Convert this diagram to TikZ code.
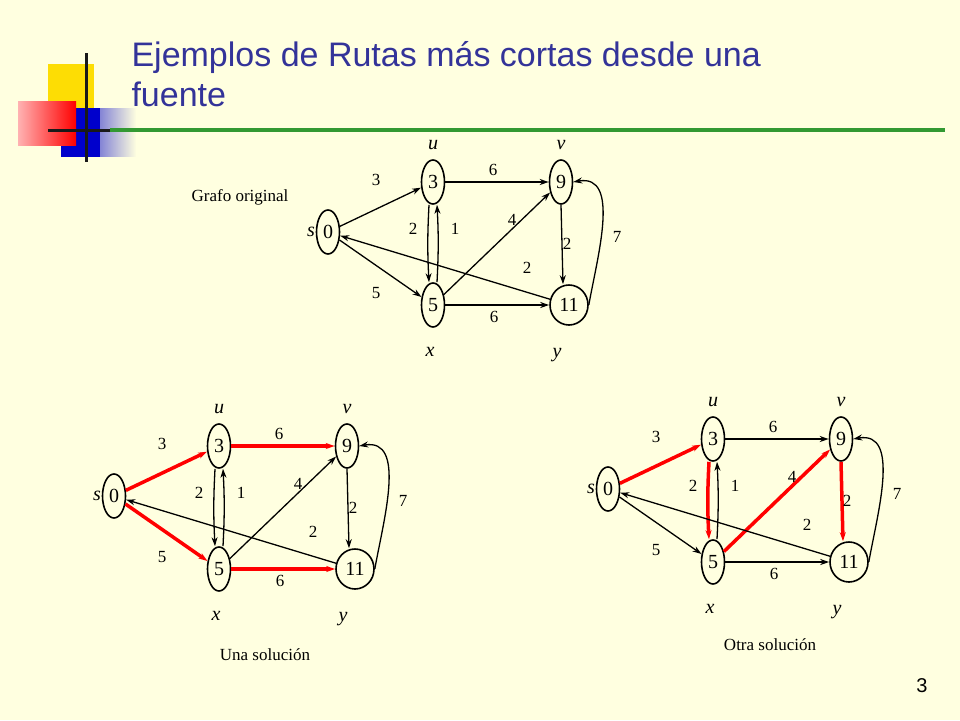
\documentclass[tikz,border=0pt]{standalone}
\usepackage{fontspec}
\setmainfont{Liberation Serif}
\newfontfamily\titlefont{Liberation Sans}
\usetikzlibrary{shapes.geometric,arrows.meta,fadings,shadings}
\definecolor{bg}{HTML}{FFFFE0}
\definecolor{ttl}{HTML}{333399}
\definecolor{grn}{HTML}{339933}
\tikzset{
 vx/.style={draw,ellipse,line width=1.6pt,inner sep=0pt,minimum width=23pt,minimum height=44pt,font=\fontsize{20}{20}\selectfont},
 vy/.style={vx,minimum width=38pt,minimum height=40pt},
 ed/.style={-{Stealth[length=9pt,width=6pt]},line width=1.3pt},
 hl/.style={red,line width=3.5pt},
 wt/.style={font=\fontsize{17}{17}\selectfont},
 lb/.style={font=\fontsize{20}{20}\selectfont\itshape},
 su/.style={},sx/.style={},uv/.style={},ux/.style={},xv/.style={},vy2/.style={},xy/.style={}
}
\newcommand\grafo[1]{%
 \node[vx] (#1s) at (328,232) {0};
 \node[vx] (#1u) at (433,182) {3};
 \node[vx] (#1v) at (561,182) {9};
 \node[vx] (#1x) at (433,305) {5};
 \node[vy] (#1y) at (569,305) {11};
 \node[lb] (#1ls) at (311,232) {s};
 \node[lb] (#1lu) at (433,145) {u};
 \node[lb] (#1lv) at (561,145) {v};
 \node[lb] (#1lx) at (430,352) {x};
 \node[lb] (#1ly) at (557,355) {y};
 \draw[ed,su] (#1s) -- (#1u);
 \draw[ed,sx] (#1s) -- (#1x);
 \draw[ed,uv] (#1u) -- (#1v);
 \draw[ed,ux] ([xshift=-4pt]#1u.south) to[bend right=3] ([xshift=-4pt]#1x.north);
 \draw[ed] ([xshift=4pt]#1x.north) to[bend right=3] ([xshift=4pt]#1u.south);
 \draw[ed,xv] (#1x) -- (#1v);
 \draw[ed,vy2] (#1v.south) -- ([xshift=-6pt]#1y.north);
 \draw[ed] (#1y) -- (#1s);
 \draw[ed,xy] (#1x) -- (#1y);
 \draw[ed] (#1y.east) to[out=80,in=10] (#1v.east);
 \node[wt] (#1w1) at (376,180) {3};
 \node[wt] (#1w2) at (493,170) {6};
 \node[wt] (#1w3) at (413,229) {2};
 \node[wt] (#1w4) at (455,229) {1};
 \node[wt] (#1w5) at (512,220) {4};
 \node[wt] (#1w6) at (567,244) {2};
 \node[wt] (#1w7) at (527,268) {2};
 \node[wt] (#1w8) at (617,237) {7};
 \node[wt] (#1w9) at (376,293) {5};
 \node[wt] (#1w10) at (494,317) {6};
}
\begin{document}
\begin{tikzpicture}[x=1pt,y=-1pt]
\fill[bg] (0,0) rectangle (960,720);
\useasboundingbox (0,0) rectangle (960,720);
% logo
\fill[yellow!80!orange] (48,64) rectangle (94,108);
\fill[blue!80!black,path fading=east] (61,108) rectangle (136,157);
\fill[blue!80!black] (61,108) rectangle (100,157);
\shade[left color=red!30,right color=red] (18,101) rectangle (76,145);
\draw[black!90,line width=3pt] (86,53) -- (86,162);
\draw[black!90,line width=3pt] (48,130) -- (110,130);
\draw[grn,line width=4pt] (110,130) -- (945,130);
\node[anchor=west,text=ttl,font=\titlefont\fontsize{34}{40}\selectfont,align=left] (title) at (128,74) {Ejemplos de Rutas más cortas desde una\\fuente};
\node[font=\titlefont\fontsize{20}{20}\selectfont] (pg) at (922,686) {3};
\node[wt] (t1) at (240,197) {Grafo original};
\node[wt] (t2) at (265,655) {Una solución};
\node[wt] (t3) at (770,645) {Otra solución};
\grafo{a}
\begin{scope}[shift={(-214,264)},su/.style=hl,sx/.style=hl,uv/.style=hl,xy/.style=hl]
\grafo{b}
\end{scope}
\begin{scope}[shift={(280,257)},su/.style=hl,ux/.style=hl,xv/.style=hl,vy2/.style=hl]
\grafo{c}
\end{scope}
\end{tikzpicture}
\end{document}
